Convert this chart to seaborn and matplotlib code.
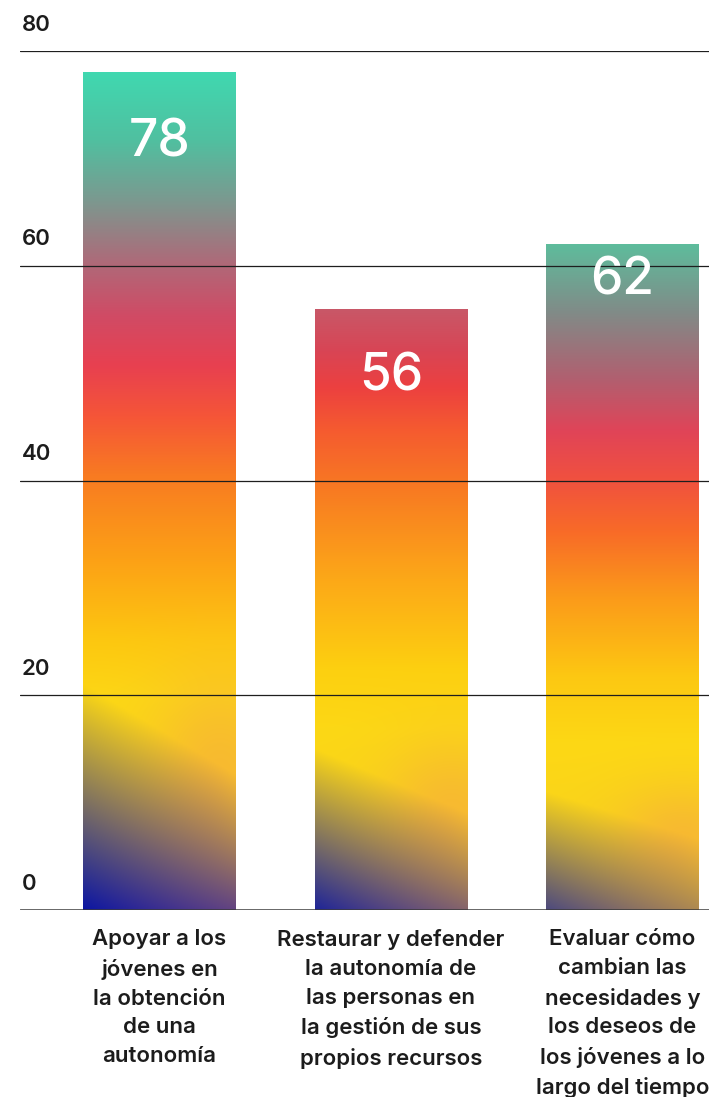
import numpy as np
import pandas as pd
import matplotlib
matplotlib.use("Agg")
import matplotlib.pyplot as plt
import matplotlib.transforms as mtransforms
import seaborn as sns
from matplotlib.colors import to_rgb

# ---- data -------------------------------------------------------------
categories = [
    "Apoyar a los\njóvenes en\nla obtención\nde una\nautonomía",
    "Restaurar y defender\nla autonomía de\nlas personas en\nla gestión de sus\npropios recursos",
    "Evaluar cómo\ncambian las\nnecesidades y\nlos deseos de\nlos jóvenes a lo\nlargo del tiempo",
]
values = [78, 56, 62]
y_ticks = [0, 20, 40, 60, 80]

# ---- per-bar gradient styling (fraction of bar height, colour) ----------
gradient_stops = [
    [(0.00, "#f4d020"), (0.25, "#fcd815"), (0.32, "#fdc810"), (0.42, "#fca016"),
     (0.52, "#f87a22"), (0.59, "#f55538"), (0.65, "#e84050"), (0.71, "#d04b65"),
     (0.77, "#b06878"), (0.85, "#7a9a90"), (0.92, "#50c0a0"), (1.00, "#40d8b0")],
    [(0.00, "#f4d020"), (0.30, "#fcd815"), (0.40, "#fdd010"), (0.55, "#fca818"),
     (0.70, "#f87a22"), (0.80, "#f55a30"), (0.87, "#ec4040"), (0.93, "#d84555"),
     (1.00, "#c85868")],
    [(0.00, "#f5d020"), (0.25, "#fdd815"), (0.35, "#fdc812"), (0.47, "#fb9a1a"),
     (0.57, "#f86a28"), (0.65, "#f05040"), (0.72, "#e04458"), (0.80, "#b06070"),
     (0.90, "#808c88"), (1.00, "#5ebc9c")],
]
# bottom shading: (reach in data units, strength left, strength right)
shadow = [(21.0, 1.00, 0.85), (15.0, 0.92, 0.65), (11.0, 0.72, 0.42)]
# how far below the bar top each value label sits (data units)
label_drop = [6.6, 6.4, 3.4]


def gradient_image(stops, height, shade, nrow=500, ncol=120):
    fr = np.linspace(0, 1, nrow)
    xs = np.linspace(0, 1, ncol)
    pos = [s[0] for s in stops]
    cols = np.array([to_rgb(s[1]) for s in stops])
    base = np.stack([np.interp(fr, pos, cols[:, k]) for k in range(3)], axis=-1)
    img = np.repeat(base[:, None, :], ncol, axis=1)
    hd = fr[:, None] * height
    X = xs[None, :]
    L, s_left, s_right = shade
    # warm glow toward the lower right
    glow = np.exp(-(((X - 0.9) / 0.45) ** 2) - (((hd - 0.6 * L) / (0.45 * L)) ** 2))
    warm = np.array(to_rgb("#f6a840"))
    img = img * (1 - 0.6 * glow[..., None]) + warm * 0.6 * glow[..., None]
    # deep blue at the base, fading upward and to the right
    reach = L * (1 - 0.4 * X)
    a = np.clip(1 - hd / reach, 0, 1) ** 1.0 * (s_left + (s_right - s_left) * X)
    blue_l = np.array(to_rgb("#0c16a2"))
    blue_r = np.array(to_rgb("#4a2c92"))
    blue = blue_l * (1 - X[..., None]) + blue_r * X[..., None]
    img = img * (1 - a[..., None]) + blue * a[..., None]
    return np.clip(img, 0, 1)


# ---- figure ---------------------------------------------------------------
sns.set_theme(style="white")
plt.rcParams["font.family"] = ["Inter", "DejaVu Sans"]
text_color = "#1c1c1c"

fig = plt.figure(figsize=(7.09, 10.97), dpi=100)
ax = fig.add_axes([20 / 709, 1 - 910 / 1097, 689 / 709, (910 - 51) / 1097])

df = pd.DataFrame({"categoria": categories, "valor": values})
sns.barplot(data=df, x="categoria", y="valor", ax=ax, width=0.66,
            color="#fcd815", saturation=1, zorder=2)

for i, patch in enumerate(ax.patches):
    x0, w, h = patch.get_x(), patch.get_width(), patch.get_height()
    patch.set_facecolor("none")
    patch.set_edgecolor("none")
    img = gradient_image(gradient_stops[i], h, shadow[i])
    im = ax.imshow(img, extent=[x0, x0 + w, 0, h], origin="lower",
                   aspect="auto", interpolation="bilinear", zorder=2)
    im.set_clip_path(patch)
    ax.text(x0 + w / 2, h - label_drop[i], f"{values[i]}", ha="center",
            va="center", color="white", fontsize=37, fontweight=500,
            zorder=4)

ax.set_xlim(-0.6026, 2.374)
ax.set_ylim(0, 80)

# horizontal rules drawn over the bars
for t in y_ticks[1:]:
    ax.axhline(t, color="#1e1e1e", lw=0.9, zorder=3)
ax.axhline(0, color="#3a3a3a", lw=1.8, zorder=3)

trans = mtransforms.blended_transform_factory(ax.transAxes, ax.transData)
for t in y_ticks:
    ax.text(0.003, t + 2.45, f"{t}", transform=trans, ha="left", va="center",
            fontsize=16, fontweight=600, color=text_color)

ax.set_yticks([])
ax.set_xticks(range(len(categories)))
ax.set_xticklabels(categories, fontsize=16, fontweight=600,
                   color=text_color, linespacing=1.55, ha="center", va="top")
ax.tick_params(axis="x", length=0, pad=14)
ax.set_xlabel("")
ax.set_ylabel("")
for s in ax.spines.values():
    s.set_visible(False)

fig.savefig("out.png", dpi=100)
